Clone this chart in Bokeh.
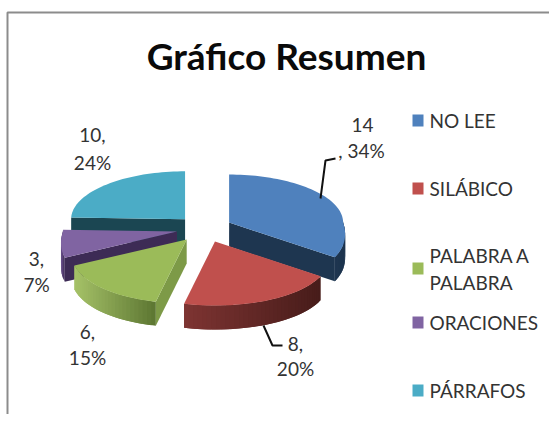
import math
from bokeh.plotting import figure
from bokeh.models import Range1d
from bokeh.core.properties import value
from bokeh.embed import file_html
from bokeh.resources import INLINE

title = "Gráfico Resumen"
categories = ["NO LEE", "SILÁBICO", "PALABRA A PALABRA", "ORACIONES", "PÁRRAFOS"]
counts = [14, 8, 6, 3, 10]
percents = [34, 20, 15, 7, 24]

top_colors = ["#4F81BD", "#C0504D", "#9BBB59", "#8064A2", "#4BACC6"]
wall_colors = ["#1E3650", "#5A2220", "#7D9A47", "#3D2B55", "#1B4652"]
rim_left = ["#254163", "#7E3432", "#A6C268", "#6A4F8C", "#1B4652"]
rim_right = ["#1D344E", "#471C1A", "#5C7632", "#3F2D58", "#1B4652"]

W, H = 549, 414
CX, CY = 204, 228.5
EX, EY = 28, 13.5
RX, RX_FRONT = 114, 22
RY_BACK, RY_FRONT = 48, 64
DEPTH = 24
FONT = "Lato"


def hex2rgb(h):
    return [int(h[i:i + 2], 16) for i in (1, 3, 5)]


def lerp(a, b, t):
    A, B = hex2rgb(a), hex2rgb(b)
    return "#%02x%02x%02x" % tuple(round(A[i] + (B[i] - A[i]) * t) for i in range(3))


p = figure(width=W, height=H, output_backend="svg", toolbar_location=None,
           x_range=Range1d(0, W), y_range=Range1d(H, 0),
           min_border=0, outline_line_color=None)
p.axis.visible = False
p.grid.visible = False

# chart frame (left and top rules)
p.line([7, 7, W], [H, 12, 12], line_color="#8C8C8C", line_width=2)

total = sum(counts)
bounds = [0]
for c in counts:
    bounds.append(bounds[-1] + c / total * 2 * math.pi)

xs, ys, fills = [], [], []


def edge(th, ax, ay):
    dx, dy = math.sin(th), -math.cos(th)
    rx = RX + RX_FRONT * max(dy, 0)
    ry = RY_FRONT if dy > 0 else RY_BACK
    return ax + rx * dx, ay + ry * dy


for i in [4, 0, 3, 2, 1]:  # back to front
    a0, a1 = bounds[i], bounds[i + 1]
    mid = (a0 + a1) / 2
    ax, ay = CX + EX * math.sin(mid), CY - EY * math.cos(mid)
    n = max(8, int((a1 - a0) * 30))
    ths = [a0 + (a1 - a0) * k / n for k in range(n + 1)]
    pts = [edge(t, ax, ay) for t in ths]
    # cut faces turned toward the viewer
    for th, q, sgn in ((a0, pts[0], -1), (a1, pts[-1], 1)):
        if sgn * math.sin(th) > 0.01:
            xs.append([ax, q[0], q[0], ax])
            ys.append([ay, q[1], q[1] + DEPTH, ay + DEPTH])
            fills.append(wall_colors[i])
    # outer rim with a stepped shade; each step overlaps the next to hide seams
    xmin, xmax = min(q[0] for q in pts), max(q[0] for q in pts)
    for k in range(n):
        if -math.cos(ths[k + 1]) <= 0 and -math.cos(ths[k]) <= 0:
            continue
        q0, q1 = pts[k], pts[min(k + 2, n)]
        t = ((pts[k][0] + pts[k + 1][0]) / 2 - xmin) / max(xmax - xmin, 1)
        xs.append([q0[0], q1[0], q1[0], q0[0]])
        ys.append([q0[1], q1[1], q1[1] + DEPTH, q0[1] + DEPTH])
        fills.append(lerp(rim_left[i], rim_right[i], t))
    # top face
    xs.append([ax] + [q[0] for q in pts])
    ys.append([ay] + [q[1] for q in pts])
    fills.append(top_colors[i])

p.patches(xs, ys, fill_color=fills, line_color=None)

# leader lines
p.line([320, 325, 335], [198, 160, 158], line_color="#111111", line_width=2)
p.line([263, 272, 282], [325, 345, 345], line_color="#111111", line_width=2)

# title
p.text([286], [55], text=[title], text_font=value(FONT), text_font_style="bold",
       text_font_size="37px", text_align="center", text_baseline="middle", text_color="#0a0a0a")

# data labels
label_color = "#333333"
lab_x = [362, 361, 87, 36, 92, 295, 295, 87, 36, 92]
lab_y = [124, 150, 331, 258, 134, 343, 368, 357, 284, 162]
lab_t = [f"{counts[0]}", f", {percents[0]}%", f"{counts[2]},", f"{counts[3]},", f"{counts[4]},",
         f"{counts[1]},", f"{percents[1]}%", f"{percents[2]}%", f"{percents[3]}%", f"{percents[4]}%"]
p.text(lab_x, lab_y, text=lab_t, text_font=value(FONT), text_font_size="19px",
       text_align="center", text_baseline="middle", text_color=label_color)

# legend
leg_y = [120, 188, 268, 322, 390]
p.rect([417.5] * 5, leg_y, width=11, height=12, fill_color=top_colors, line_color=None)
leg_tx, leg_ty = [], []
for cat, y in zip(categories, leg_y):
    if cat == "PALABRA A PALABRA":
        leg_tx += ["PALABRA A", "PALABRA"]
        leg_ty += [y - 13, y + 14]
    else:
        leg_tx.append(cat)
        leg_ty.append(y)
p.text([429] * len(leg_tx), leg_ty, text=leg_tx, text_font=value(FONT), text_font_size="19px",
       text_align="left", text_baseline="middle", text_color=label_color)

open("out.html", "w").write(file_html(p, INLINE))
